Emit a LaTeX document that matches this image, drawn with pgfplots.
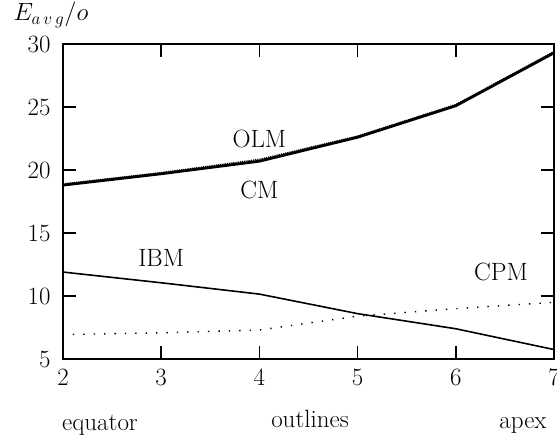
\documentclass[border=0pt]{standalone}
\usepackage{pgfplots}
\pgfplotsset{compat=1.18}
\begin{document}
\fontsize{25}{30}\selectfont
\begin{tikzpicture}[x=1pt,y=1pt]
\useasboundingbox (-63,-85) rectangle (494,359);
\begin{axis}[
  scale only axis, width=491pt, height=315pt,
  xmin=2, xmax=7, ymin=5, ymax=30,
  xtick={2,3,4,5,6,7}, ytick={5,10,15,20,25,30},
  major tick length=13pt,
  tick style={line width=1.6pt, black},
  axis line style={line width=1.4pt},
  tick align=inside,
  xticklabel style={font=\fontsize{25}{30}\selectfont, yshift=-2pt},
  yticklabel style={font=\fontsize{25}{30}\selectfont, xshift=-4pt},
  clip=false,
]
\addplot[black, line width=2.8pt] coordinates {(2,18.8) (3,19.7) (4,20.7) (5,22.6) (6,25.1) (7,29.3)};
\addplot[black, line width=1.2pt, densely dotted] coordinates {(2,18.9) (3,19.8) (4,20.85) (5,22.7) (6,25.2) (7,29.4)};
\addplot[black, line width=1.6pt] coordinates {(2,11.9) (3,11.05) (4,10.15) (5,8.6) (6,7.4) (7,5.75)};
\addplot[black, line width=1.4pt, dash pattern=on 1.4pt off 9pt] coordinates {(2.1,6.95) (3,7.08) (4,7.3) (5,8.4) (6,9.0) (7,9.5)};
\node[font=\fontsize{25}{30}\selectfont] at (axis cs:4.0,22.5) {OLM};
\node[font=\fontsize{25}{30}\selectfont] at (axis cs:4.0,18.45) {CM};
\node[font=\fontsize{25}{30}\selectfont] at (axis cs:3.0,13.0) {IBM};
\node[font=\fontsize{25}{30}\selectfont] at (axis cs:6.46,11.9) {CPM};
\end{axis}
\node[font=\fontsize{25}{30}\selectfont] at (-12,344) {$E_{a\,v\,g}/o$};
\node[font=\fontsize{25}{30}\selectfont] at (37,-66) {equator};
\node[font=\fontsize{25}{30}\selectfont] at (247,-60) {outlines};
\node[font=\fontsize{25}{30}\selectfont] at (460,-66) {apex};
\end{tikzpicture}
\end{document}
